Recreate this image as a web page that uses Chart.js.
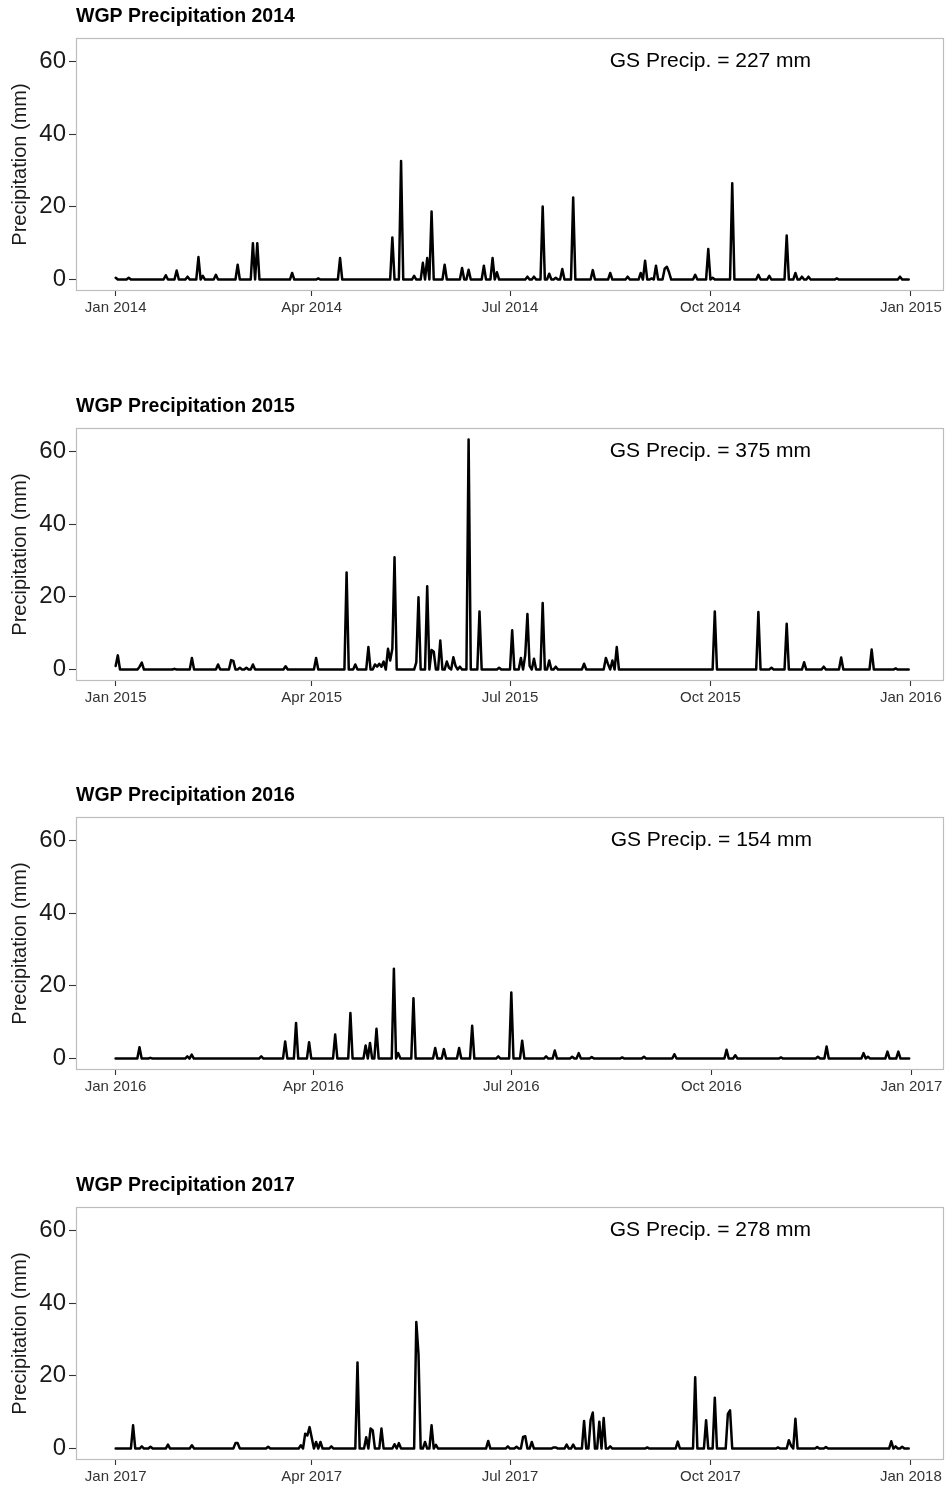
<!DOCTYPE html>
<html><head><meta charset="utf-8">
<script src="https://cdn.jsdelivr.net/npm/chart.js@4.4.1/dist/chart.umd.min.js"></script>
<style>
body{margin:0;background:#fff;width:950px;height:1487px;position:relative;overflow:hidden}
.p{position:absolute;left:0;width:950px;height:340px}
canvas{display:block}
</style></head><body>
<div class="p" style="top:0"><canvas id="c0" width="950" height="340"></canvas></div>
<div class="p" style="top:390px"><canvas id="c1" width="950" height="340"></canvas></div>
<div class="p" style="top:779px"><canvas id="c2" width="950" height="340"></canvas></div>
<div class="p" style="top:1169px"><canvas id="c3" width="950" height="340"></canvas></div>
<script>
// ---- data (day of year, 0 = Jan 1; days not listed had 0 mm) ----
const years = [2014, 2015, 2016, 2017];
const gsPrecip = [227, 375, 154, 278];
const tickMonths = ['Jan', 'Apr', 'Jul', 'Oct', 'Jan'];
const tickDaysCommon = [0, 90, 181, 273, 365];
const tickDaysLeap = [0, 91, 182, 274, 366];
const yTicks = [0, 20, 40, 60];

const rainDay2014 = [0,6,23,28,33,38,40,46,56,63,65,81,93,103,127,131,137,141,143,145,151,159,162,169,173,175,189,192,196,199,202,205,210,219,227,235,241,243,246,248,252,253,254,266,272,274,283,295,300,308,312,315,318,331,360];
const rainMm2014  = [0.5,0.5,1.2,2.5,0.8,6.2,1.0,1.3,4.1,10.0,10.0,1.8,0.3,5.9,11.6,32.6,1.0,4.6,5.9,18.7,4.1,3.2,2.7,3.8,5.9,2.0,0.8,0.8,20.1,1.6,0.5,2.9,22.6,2.6,1.8,0.8,1.8,5.2,0.3,3.8,3.0,3.5,2.0,1.3,8.4,0.5,26.5,1.3,1.0,12.1,1.8,0.8,0.8,0.3,0.8];

const rainDay2015 = [0,1,11,12,27,35,47,53,54,57,60,63,78,92,106,110,116,119,120,121,122,123,125,126,127,128,138,139,143,145,146,149,152,153,155,156,158,162,167,176,182,186,188,189,190,192,196,199,202,215,225,226,228,230,275,295,301,308,316,325,333,347,358];
const rainMm2015  = [1.0,3.9,0.8,1.9,0.2,3.2,1.4,2.6,2.4,0.5,0.5,1.4,0.9,3.2,26.7,1.4,6.2,1.4,0.8,1.6,0.8,2.2,5.7,2.5,5.7,30.9,2.0,19.9,22.9,5.4,4.9,8.0,2.2,0.5,3.4,1.0,0.8,63.3,16.0,0.5,10.8,3.2,4.0,15.3,1.0,3.0,18.3,2.5,0.8,1.6,3.2,1.5,2.5,6.2,16.0,15.8,0.5,12.6,2.0,0.8,3.3,5.5,0.3];

const rainDay2016 = [11,16,33,35,67,78,83,89,101,108,115,117,120,128,130,137,147,151,158,164,176,182,187,198,202,210,213,219,233,243,257,281,285,306,323,327,344,346,355,360];
const rainMm2016  = [3.1,0.2,0.6,1.1,0.6,4.7,9.8,4.5,6.6,12.5,3.6,4.3,8.2,24.7,1.5,16.6,2.9,2.6,2.9,9.0,0.6,18.2,4.9,0.6,2.2,0.5,1.5,0.4,0.3,0.5,1.2,2.4,0.9,0.3,0.5,3.3,1.5,0.5,1.9,1.9];

const rainDay2017 = [8,12,16,24,35,55,56,70,85,87,88,89,90,92,94,99,111,115,117,118,122,128,130,138,139,142,145,147,171,180,184,187,188,191,201,202,207,210,215,218,219,222,224,227,244,258,266,271,275,281,282,304,309,310,312,322,326,356,358,361];
const rainMm2017  = [6.4,0.6,0.5,1.1,0.9,1.5,1.5,0.5,0.9,4.1,3.6,5.9,3.0,1.8,1.8,0.6,23.7,3.1,5.5,5.0,5.5,1.2,1.5,34.8,26.0,1.8,6.4,1.0,2.1,0.6,0.5,3.2,3.4,1.8,0.3,0.3,1.1,1.1,7.6,7.8,9.9,7.4,8.4,0.6,0.3,1.9,19.6,7.8,14.0,9.5,10.5,0.3,2.3,0.8,8.2,0.4,0.4,2.0,0.6,0.5];

const rainDays = [rainDay2014, rainDay2015, rainDay2016, rainDay2017];
const rainMms = [rainMm2014, rainMm2015, rainMm2016, rainMm2017];

Chart.defaults.font.family = "'Liberation Sans', Arial, Helvetica, sans-serif";

function makeChart(i) {
  const year = years[i];
  const leap = (year % 4 === 0);
  const nDays = leap ? 366 : 365;
  const tickDays = leap ? tickDaysLeap : tickDaysCommon;
  const daily = new Array(nDays).fill(0);
  rainDays[i].forEach((d, k) => { daily[d] = rainMms[i][k]; });
  const pts = daily.map((v, d) => ({ x: d, y: v }));

  const decor = {
    id: 'decor',
    beforeDatasetsDraw(chart) {
      const { ctx, chartArea: a } = chart;
      ctx.save();
      ctx.strokeStyle = '#bdbdbd';
      ctx.lineWidth = 1.2;
      ctx.strokeRect(a.left + 0.5, a.top + 0.5, a.right - a.left - 1, a.bottom - a.top - 1);
      ctx.restore();
    },
    afterDraw(chart) {
      const { ctx, chartArea: a, scales } = chart;
      ctx.save();
      ctx.fillStyle = '#000';
      ctx.textBaseline = 'middle';
      ctx.textAlign = 'left';
      ctx.font = "bold 19.5px 'Liberation Sans', Arial, sans-serif";
      ctx.fillText('WGP Precipitation ' + year, a.left, 17);
      ctx.font = "21px 'Liberation Sans', Arial, sans-serif";
      ctx.textAlign = 'center';
      ctx.fillText('GS Precip. = ' + gsPrecip[i] + ' mm',
        scales.x.getPixelForValue(tickDays[3]), scales.y.getPixelForValue(60));
      ctx.translate(20, (a.top + a.bottom) / 2);
      ctx.rotate(-Math.PI / 2);
      ctx.fillStyle = '#1a1a1a';
      ctx.font = "20px 'Liberation Sans', Arial, sans-serif";
      ctx.fillText('Precipitation (mm)', 0, 0);
      ctx.restore();
    }
  };

  new Chart(document.getElementById('c' + i), {
    type: 'line',
    data: {
      datasets: [{
        data: pts,
        borderColor: '#000',
        borderWidth: 2.5,
        borderJoinStyle: 'round',
        borderCapStyle: 'round',
        pointRadius: 0,
        tension: 0,
        fill: false
      }]
    },
    options: {
      responsive: false,
      animation: false,
      events: [],
      layout: { padding: { top: 38, right: 6, bottom: 0, left: 0 } },
      plugins: { legend: { display: false }, tooltip: { enabled: false }, title: { display: false } },
      scales: {
        x: {
          type: 'linear',
          min: -18.2,
          max: leap ? 381 : 380.2,
          afterBuildTicks: s => { s.ticks = tickDays.map(v => ({ value: v })); },
          afterFit: s => { s.height = 49; },
          ticks: {
            autoSkip: false, maxRotation: 0, padding: 3,
            color: '#333',
            font: { size: 15 },
            callback: (v, idx) => tickMonths[idx] + ' ' + (idx === 4 ? year + 1 : year)
          },
          grid: { drawOnChartArea: false, drawTicks: true, tickLength: 5, tickColor: '#333', tickWidth: 1.1 },
          border: { display: false }
        },
        y: {
          min: -3.15,
          max: 66.45,
          afterBuildTicks: s => { s.ticks = yTicks.map(v => ({ value: v })); },
          afterFit: s => { s.width = 76; },
          ticks: { padding: 3, color: '#1a1a1a', font: { size: 24 } },
          grid: { drawOnChartArea: false, drawTicks: true, tickLength: 7, tickColor: '#333', tickWidth: 1.1 },
          border: { display: false }
        }
      }
    },
    plugins: [decor]
  });
}

years.forEach((y, i) => makeChart(i));
</script>
</body></html>
